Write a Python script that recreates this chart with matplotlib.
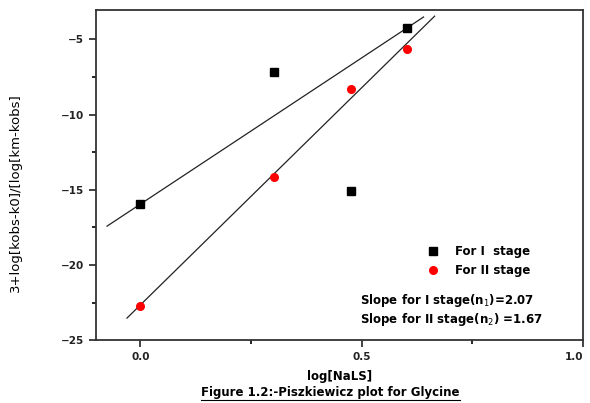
import matplotlib.pyplot as plt
from matplotlib.lines import Line2D
import numpy as np

plt.rcParams['font.family'] = ['DejaVu Sans']

log_nals = [0.0, 0.301, 0.477, 0.602]
stage1 = [-15.96, -7.18, -15.05, -4.25]
stage2 = [-22.7, -14.15, -8.3, -5.65]

# line extents
line1_x = [-0.075, 0.64]
line2_x = [-0.03, 0.665]

fig = plt.figure(figsize=(5.9, 4.03), dpi=100)
ax = fig.add_axes([0.1627, 0.156, 0.988 - 0.1627, 0.975 - 0.156])

# stage I line goes through the first and last point, stage II is a fit
s1 = np.polyfit([log_nals[0], log_nals[-1]], [stage1[0], stage1[-1]], 1)
s2 = np.polyfit(log_nals, stage2, 1)
ax.plot(line1_x, np.polyval(s1, line1_x), color='#222222', lw=0.9)
ax.plot(line2_x, np.polyval(s2, line2_x), color='#222222', lw=0.9)

ax.plot(log_nals, stage1, 's', color='black', ms=6, label='For I  stage', zorder=3)
ax.plot(log_nals, stage2, 'o', color='red', ms=5.5, label='For II stage', zorder=3)

ax.set_xlim(-0.1, 1.0)
ax.set_ylim(-25, -3.05)
ax.set_xticks([0.0, 0.5, 1.0])
ax.set_xticks([0.25, 0.75], minor=True)
ax.set_yticks([-25, -20, -15, -10, -5])
ax.set_yticks([-22.5, -17.5, -12.5, -7.5], minor=True)
ax.tick_params(direction='out', length=5, width=1.2, labelsize=7.5, colors='#222222')
ax.tick_params(which='minor', direction='out', length=3, width=1.2)
for lab in ax.get_xticklabels() + ax.get_yticklabels():
    lab.set_fontweight('bold')
ax.get_xticklabels()[-1].set_horizontalalignment('right')
for sp in ax.spines.values():
    sp.set_linewidth(1.3)
    sp.set_color('#333333')

ax.set_xlabel('log[NaLS]', fontsize=8.5, fontweight='bold', labelpad=6)
ax.set_ylabel('3+log[kobs-k0]/[log[km-kobs]', fontsize=9.5)
ax.yaxis.set_label_coords(-0.152, 0.448)

ax.legend(loc='upper left', bbox_to_anchor=(0.665, 0.305), frameon=False,
          prop={'size': 8.5, 'weight': 'bold'}, handletextpad=1.3,
          labelspacing=0.45, borderpad=0, handlelength=1.2)

ax.text(0.542, 0.109, 'Slope for I stage(n$_1$)=2.07', transform=ax.transAxes,
        fontsize=8.5, fontweight='bold')
ax.text(0.542, 0.052, 'Slope for II stage(n$_2$) =1.67', transform=ax.transAxes,
        fontsize=8.5, fontweight='bold')

title = fig.text(0.56, 0.01, 'Figure 1.2:-Piszkiewicz plot for Glycine',
                 ha='center', va='bottom', fontsize=8.5, fontweight='bold')
fig.canvas.draw()
bb = title.get_window_extent().transformed(fig.transFigure.inverted())
fig.add_artist(Line2D([bb.x0, bb.x1], [bb.y0 - 0.003, bb.y0 - 0.003],
                      color='black', lw=0.8, transform=fig.transFigure))

fig.savefig('out.png', dpi=100)
